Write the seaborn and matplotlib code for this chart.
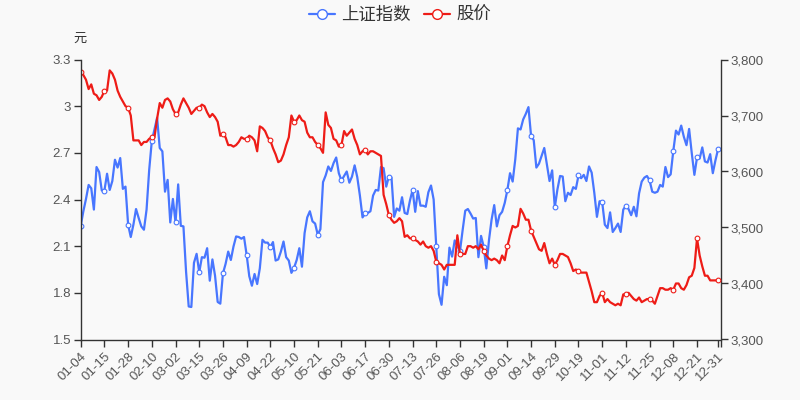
import matplotlib
matplotlib.use('Agg')
import matplotlib.pyplot as plt
from matplotlib.ticker import FuncFormatter, FixedLocator
from matplotlib.lines import Line2D
import seaborn as sns
import pandas as pd

# ---------------- data ----------------
x_labels = ['01-04', '01-15', '01-28', '02-10', '03-02', '03-15', '03-26', '04-09',
            '04-22', '05-10', '05-21', '06-03', '06-17', '06-30', '07-13', '07-26',
            '08-06', '08-19', '09-01', '09-14', '09-29', '10-19', '11-01', '11-12',
            '11-25', '12-08', '12-21', '12-31']

sse_index = [
    3503, 3529, 3551, 3576, 3570, 3532, 3608, 3599, 3566, 3566,
    3596, 3567, 3583, 3621, 3607, 3624, 3569, 3573, 3505, 3483,
    3505, 3533, 3517, 3502, 3496, 3532, 3603, 3655, 3675, 3696,
    3642, 3636, 3564, 3585, 3509, 3551, 3509, 3577, 3503, 3502,
    3421, 3359, 3358, 3437, 3453, 3420, 3447, 3446, 3463, 3405,
    3443, 3414, 3367, 3364, 3418, 3435, 3457, 3442, 3466, 3484,
    3483, 3480, 3483, 3451, 3413, 3396, 3417, 3399, 3427, 3478,
    3473, 3473, 3465, 3474, 3441, 3443, 3457, 3475, 3447, 3441,
    3419, 3428, 3442, 3463, 3430, 3490, 3518, 3529, 3511, 3507,
    3487, 3497, 3581, 3593, 3609, 3601, 3615, 3625, 3597, 3584,
    3592, 3600, 3580, 3591, 3611, 3590, 3557, 3518, 3525, 3526,
    3529, 3557, 3567, 3566, 3608, 3606, 3573, 3591, 3589, 3519,
    3534, 3530, 3554, 3526, 3524, 3548, 3567, 3528, 3565, 3539,
    3539, 3537, 3563, 3575, 3550, 3467, 3381, 3362, 3412, 3397,
    3464, 3448, 3477, 3467, 3458, 3495, 3530, 3533, 3525, 3516,
    3517, 3447, 3485, 3466, 3427, 3477, 3514, 3540, 3502, 3522,
    3528, 3544, 3567, 3597, 3582, 3622, 3677, 3675, 3693, 3703,
    3715, 3663, 3656, 3607, 3614, 3628, 3642, 3613, 3583, 3602,
    3536, 3568, 3592, 3591, 3547, 3562, 3558, 3572, 3569, 3593,
    3588, 3594, 3583, 3609, 3598, 3562, 3519, 3547, 3545, 3505,
    3499, 3527, 3492, 3499, 3507, 3492, 3532, 3539, 3533, 3522,
    3537, 3520, 3561, 3582, 3589, 3592, 3584, 3564, 3562, 3564,
    3576, 3573, 3608, 3590, 3595, 3637, 3673, 3666, 3682, 3662,
    3647, 3676, 3633, 3594, 3625, 3623, 3643, 3618, 3616, 3631,
    3597, 3620, 3640,
]

stock_price = [
    3.22, 3.20, 3.17, 3.11, 3.14, 3.08, 3.07, 3.04, 3.06, 3.10,
    3.10, 3.23, 3.21, 3.17, 3.10, 3.06, 3.03, 3.00, 2.99, 2.94,
    2.78, 2.78, 2.78, 2.75, 2.77, 2.77, 2.79, 2.80, 2.80, 2.92,
    3.02, 2.99, 3.04, 3.05, 3.03, 2.98, 2.95, 2.96, 3.01, 3.05,
    3.02, 2.99, 2.95, 2.97, 2.99, 2.99, 3.01, 3.00, 2.96, 2.93,
    2.95, 2.93, 2.90, 2.81, 2.82, 2.80, 2.75, 2.75, 2.74, 2.75,
    2.77, 2.80, 2.79, 2.79, 2.81, 2.80, 2.78, 2.71, 2.87, 2.86,
    2.84, 2.80, 2.78, 2.73, 2.69, 2.64, 2.65, 2.69, 2.75, 2.80,
    2.94, 2.90, 2.91, 2.94, 2.91, 2.90, 2.83, 2.80, 2.80, 2.77,
    2.75, 2.73, 2.70, 2.96, 2.88, 2.86, 2.79, 2.78, 2.74, 2.75,
    2.84, 2.81, 2.83, 2.85, 2.79, 2.75, 2.69, 2.71, 2.72, 2.69,
    2.71, 2.71, 2.70, 2.69, 2.68, 2.43, 2.37, 2.30, 2.27, 2.25,
    2.26, 2.28, 2.26, 2.16, 2.17, 2.15, 2.15, 2.14, 2.13, 2.11,
    2.13, 2.10, 2.09, 2.10, 2.07, 2.00, 1.99, 1.98, 1.95, 1.98,
    1.98, 1.98, 1.98, 2.17, 2.05, 2.05, 2.05, 2.10, 2.10, 2.09,
    2.10, 2.08, 2.11, 2.07, 2.04, 2.02, 2.01, 2.02, 2.01, 1.99,
    2.04, 2.01, 2.10, 2.17, 2.23, 2.22, 2.23, 2.34, 2.31, 2.27,
    2.27, 2.20, 2.16, 2.12, 2.08, 2.07, 2.12, 2.05, 1.99, 2.02,
    1.98, 2.01, 2.05, 2.05, 2.04, 2.03, 1.99, 1.94, 1.95, 1.94,
    1.93, 1.93, 1.93, 1.87, 1.81, 1.74, 1.74, 1.78, 1.80, 1.74,
    1.76, 1.74, 1.73, 1.72, 1.73, 1.72, 1.79, 1.79, 1.80, 1.78,
    1.76, 1.75, 1.77, 1.74, 1.75, 1.76, 1.76, 1.75, 1.73, 1.78,
    1.83, 1.83, 1.82, 1.82, 1.83, 1.82, 1.86, 1.86, 1.83, 1.82,
    1.85, 1.90, 1.91, 1.96, 2.15, 2.04, 1.97, 1.91, 1.91, 1.88,
    1.88, 1.88, 1.88,
]

series_names = ['上证指数', '股价']

# ---------------- style ----------------
BG = '#f9f9f9'
BLUE = '#4876ff'
RED = '#ee1c17'
AXC = '#333333'
TXT = '#555555'

sns.set_theme(style='white')
plt.rcParams['font.family'] = ['Liberation Sans', 'Noto Sans CJK SC', 'DejaVu Sans']

n = len(sse_index)
df = pd.DataFrame({'pos': list(range(n)), 'sse': sse_index, 'price': stock_price})

step = 9
tick_pos = list(range(0, n - 8, step)) + [n - 1]
marker_pos = tick_pos

fig = plt.figure(figsize=(8, 4), dpi=100, facecolor=BG)
ax = fig.add_axes([0.1009, 0.15125, 0.8, 0.7])
ax.set_facecolor(BG)
ax2 = ax.twinx()

sns.lineplot(data=df, x='pos', y='sse', ax=ax2, color=BLUE, linewidth=1.6,
             marker='o', markevery=marker_pos, markersize=3.4,
             markerfacecolor='white', markeredgecolor=BLUE, markeredgewidth=0.8)
sns.lineplot(data=df, x='pos', y='price', ax=ax, color=RED, linewidth=1.6,
             marker='o', markevery=marker_pos, markersize=3.4,
             markerfacecolor='white', markeredgecolor=RED, markeredgewidth=0.8)

ax.set_zorder(ax2.get_zorder() + 1)
ax.patch.set_visible(False)
ax2.patch.set_visible(True)
ax2.patch.set_facecolor(BG)

ax.set_xlim(0, n)
ax.set_ylim(1.5, 3.3)
ax2.set_ylim(3300, 3800)

ax.yaxis.set_major_locator(FixedLocator([1.5, 1.8, 2.1, 2.4, 2.7, 3.0, 3.3]))
ax.yaxis.set_major_formatter(FuncFormatter(lambda v, p: f'{v:g}'))
ax2.yaxis.set_major_locator(FixedLocator([3300, 3400, 3500, 3600, 3700, 3800]))
ax2.yaxis.set_major_formatter(FuncFormatter(lambda v, p: f'{int(v):,}'))

ax.set_xticks(tick_pos)
ax.set_xticks([n], minor=True)
ax.set_xticklabels(x_labels, rotation=45, ha='right', rotation_mode='anchor')

for a in (ax, ax2):
    a.set_xlabel('')
    a.set_ylabel('')
    for s in a.spines.values():
        s.set_color(AXC)
        s.set_linewidth(1)
    a.spines['top'].set_visible(False)
    a.grid(False)

ax.spines['right'].set_visible(False)
ax2.spines['left'].set_visible(False)
ax2.spines['bottom'].set_visible(False)

ax.tick_params(axis='x', which='both', length=5, width=1, color=AXC, labelcolor=TXT,
               labelsize=9.5, pad=3, direction='out', bottom=True)
ax.tick_params(axis='y', length=5, width=1, color=AXC, labelcolor=TXT,
               labelsize=9.5, pad=2, direction='out', left=True)
ax2.tick_params(axis='y', length=5, width=1, color=AXC, labelcolor=TXT,
                labelsize=9.5, pad=2, direction='out', right=True)

fig.text(0.0995, 1 - 38.5 / 400, '元', ha='center', va='center', fontsize=9.5, color=AXC)

handles = [
    Line2D([0], [0], color=BLUE, lw=1.6, marker='o', markersize=7,
           markerfacecolor='white', markeredgecolor=BLUE, markeredgewidth=1),
    Line2D([0], [0], color=RED, lw=1.6, marker='o', markersize=7,
           markerfacecolor='white', markeredgecolor=RED, markeredgewidth=1),
]
fig.legend(handles, series_names, loc='upper center', bbox_to_anchor=(0.5, 1.022),
           ncol=2, frameon=False, fontsize=12.5, handlelength=1.5, handletextpad=0.35,
           columnspacing=0.8, labelcolor='#333333')

fig.savefig('out.png', dpi=100, facecolor=BG)
